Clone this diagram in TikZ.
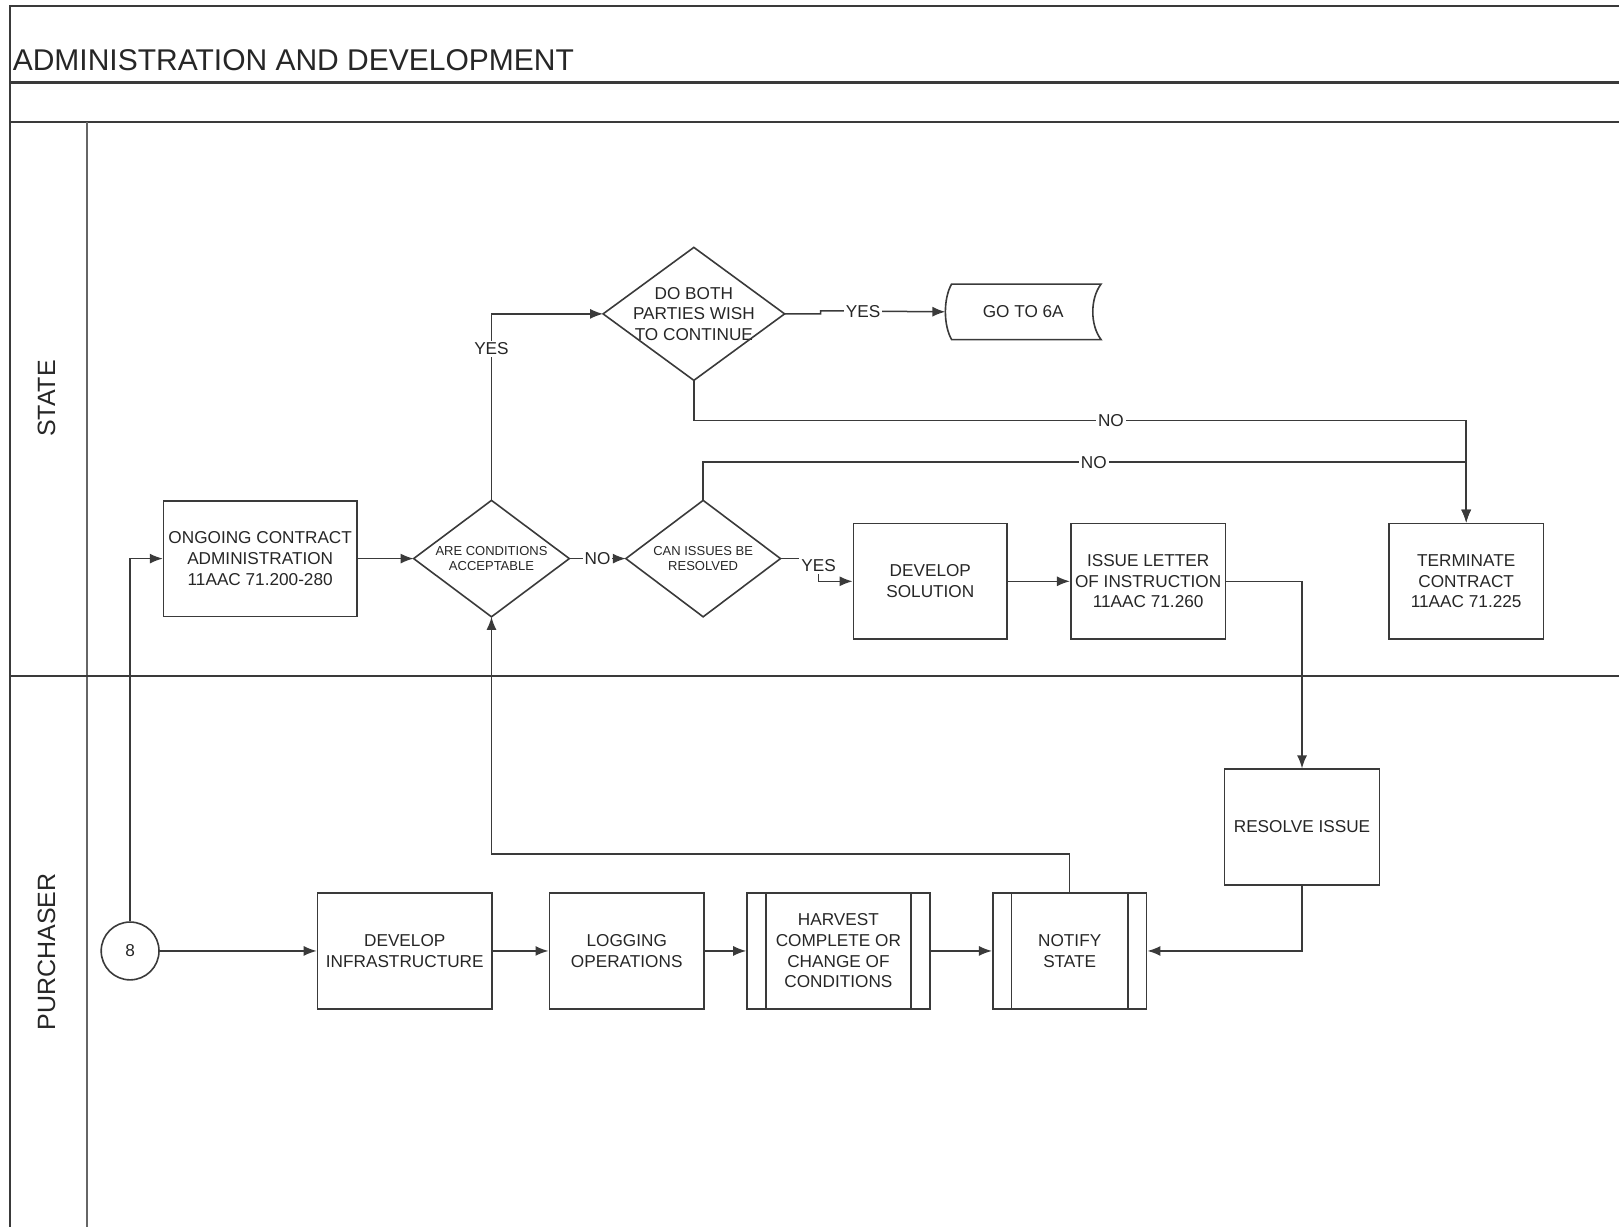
\documentclass[tikz,border=0pt]{standalone}
\usepackage{fontspec}
\setmainfont{Liberation Sans}
\usetikzlibrary{arrows.meta}
\definecolor{ink}{HTML}{3A3A3A}
\definecolor{txt}{HTML}{262626}
\newdimen\pxu \pxu=0.51625pt
\begin{document}
\begin{tikzpicture}[x=0.51625pt,y=-0.51625pt,
  boxtext/.style={text=txt,align=center,font=\fontsize{8.6}{10.3}\selectfont},
  box/.style={boxtext,draw=ink,line width=0.8pt,rectangle,inner sep=0pt,minimum width=150\pxu,minimum height=112\pxu},
  diabox/.style={boxtext,rectangle,inner sep=0pt},
  small/.style={text=txt,align=center,font=\fontsize{6.5}{7.7}\selectfont},
  conn/.style={draw=ink,line width=0.75pt,-{Latex[length=6.5pt,width=5pt]}},
  lbl/.style={fill=white,inner sep=1pt,text=txt,font=\fontsize{8.6}{10.3}\selectfont},
  lane/.style={draw=ink,line width=1.1pt},
  lanetext/.style={text=txt,font=\fontsize{12.5}{14}\selectfont,rotate=90}
]
\useasboundingbox (0,0) rectangle (1568,1188);
% frame and lanes
\draw[lane] (1568,6) -- (10,6) -- (10,1188);
\draw[lane] (10,80) -- (1568,80);
\draw[lane] (10,118) -- (1568,118);
\draw[lane,draw=gray!80!black] (84,118) -- (84,1188);
\draw[lane] (10,655) -- (1568,655);
\node[anchor=base west,text=txt,font=\fontsize{15}{18}\selectfont,inner sep=0pt] (title) at (12,68) {ADMINISTRATION AND DEVELOPMENT};
\node[lanetext] (lstate) at (45,386) {STATE};
\node[lanetext] (lpurch) at (45,922) {PURCHASER};

% STATE lane nodes
\node[box,minimum width=187\pxu] (ongoing) at (252,541) {ONGOING CONTRACT\\ADMINISTRATION\\11AAC 71.200-280};
\node[diabox,small,minimum width=150\pxu,minimum height=112\pxu] (acc) at (476,541) {ARE CONDITIONS\\ACCEPTABLE};
\draw[draw=ink,line width=0.8pt] (acc.north) -- (acc.east) -- (acc.south) -- (acc.west) -- cycle;
\node[diabox,small,minimum width=149\pxu,minimum height=112\pxu] (res) at (681,541) {CAN ISSUES BE\\RESOLVED};
\draw[draw=ink,line width=0.8pt] (res.north) -- (res.east) -- (res.south) -- (res.west) -- cycle;
\node[diabox,minimum width=175\pxu,minimum height=128\pxu] (both) at (672,304) {DO BOTH\\PARTIES WISH\\TO CONTINUE};
\draw[draw=ink,line width=0.8pt] (both.north) -- (both.east) -- (both.south) -- (both.west) -- cycle;
\node[diabox,minimum width=150\pxu,minimum height=53\pxu] (go) at (991,302) {GO TO 6A};
\draw[draw=ink,line width=0.8pt] ([xshift=6\pxu]go.north west) -- (go.north east)
  .. controls ([xshift=-10.7\pxu,yshift=-14\pxu]go.north east) and ([xshift=-10.7\pxu,yshift=14\pxu]go.south east) .. (go.south east)
  -- ([xshift=6\pxu]go.south west)
  .. controls ([xshift=-2\pxu,yshift=14\pxu]go.south west) and ([xshift=-2\pxu,yshift=-14\pxu]go.north west) .. ([xshift=6\pxu]go.north west) -- cycle;
\node[box,minimum width=149\pxu] (devsol) at (901,563) {DEVELOP\\SOLUTION};
\node[box] (letter) at (1112,563) {ISSUE LETTER\\OF INSTRUCTION\\11AAC 71.260};
\node[box] (term) at (1420,563) {TERMINATE\\CONTRACT\\11AAC 71.225};

% PURCHASER lane nodes
\node[box] (resolve) at (1261,801) {RESOLVE ISSUE};
\node[circle,draw=ink,line width=0.8pt,minimum size=56\pxu,inner sep=0pt,text=txt,font=\fontsize{8.6}{10.3}\selectfont] (c8) at (126,921) {8};
\node[box,minimum width=169\pxu] (infra) at (392,921) {DEVELOP\\INFRASTRUCTURE};
\node[box] (logging) at (607,921) {LOGGING\\OPERATIONS};
\node[box,minimum width=177\pxu] (harvest) at (812,921) {HARVEST\\COMPLETE OR\\CHANGE OF\\CONDITIONS};
\draw[draw=ink,line width=0.8pt] ([xshift=19\pxu]harvest.north west) -- ([xshift=19\pxu]harvest.south west)
  ([xshift=-19\pxu]harvest.north east) -- ([xshift=-19\pxu]harvest.south east);
\node[box,minimum width=149\pxu] (notify) at (1036,921) {NOTIFY\\STATE};
\draw[draw=ink,line width=0.8pt] ([xshift=19\pxu]notify.north west) -- ([xshift=19\pxu]notify.south west)
  ([xshift=-19\pxu]notify.north east) -- ([xshift=-19\pxu]notify.south east);

% connectors
\draw[conn] (c8.north) |- (ongoing.west);
\draw[conn] (c8.east) -- (infra.west);
\draw[conn] (infra.east) -- (logging.west);
\draw[conn] (logging.east) -- (harvest.west);
\draw[conn] (harvest.east) -- (notify.west);
\draw[conn] (ongoing.east) -- (acc.west);
\draw[conn] (acc.east) -- node[lbl] {NO} (res.west);
\draw[conn] (acc.north) |- node[lbl,pos=0.406] {YES} (both.west);
\draw[conn] (both.east) -- ++(35,0) -- ++(0,-3) -- node[lbl,pos=0.34] {YES} (go.west);
\draw[conn] (both.south) -- ++(0,39) -| node[lbl,pos=0.27] {NO} (term.north);
\draw[conn] (res.north) -- ++(0,-37) -| node[lbl,pos=0.256] {NO} (term.north);
\draw[conn] (res.east) -- ++(37,0) coordinate (yj) |- (devsol.west);
\node[lbl,anchor=north,inner sep=1pt] (yeslbl) at ([yshift=1.5\pxu]yj) {YES};
\draw[conn] (devsol.east) -- (letter.west);
\draw[conn] (letter.east) -| (resolve.north);
\draw[conn] (resolve.south) |- (notify.east);
\draw[conn] (notify.north) -- ++(0,-37) -| (acc.south);
\end{tikzpicture}
\end{document}
